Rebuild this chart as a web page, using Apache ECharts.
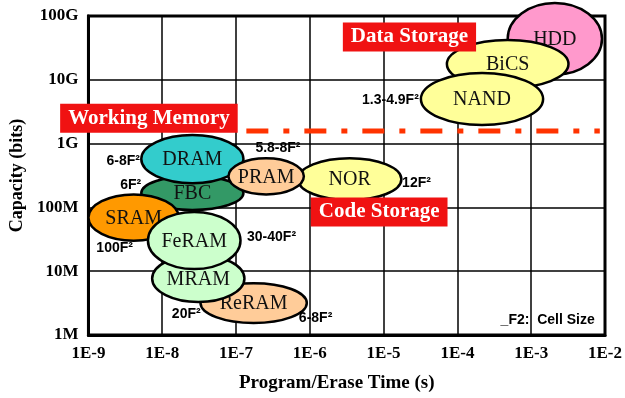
<!DOCTYPE html>
<html>
<head>
<meta charset="utf-8">
<script src="https://cdn.jsdelivr.net/npm/echarts@6/dist/echarts.min.js"></script>
<style>html,body{margin:0;padding:0;background:#fff}#chart{width:625px;height:398px}</style>
</head>
<body>
<div id="chart"></div>
<script>
// 各存储器: 写/擦时间范围 (s), 容量范围 (bits)
var memNames = ['HDD', 'BiCS', 'NAND', 'NOR', 'FBC', 'DRAM', 'PRAM', 'SRAM', 'ReRAM', 'MRAM', 'FeRAM'];
var timeMin = [4.8e-4, 7.2e-5, 3.2e-5, 6.9e-7, 5.2e-9, 5.2e-9, 7.9e-8, 1.0e-9, 3.3e-8, 7.3e-9, 6.4e-9];
var timeMax = [9.1e-3, 3.2e-3, 1.45e-3, 1.74e-5, 1.26e-7, 1.26e-7, 8.3e-7, 1.68e-8, 9.1e-7, 1.3e-7, 1.15e-7];
var capMin = [1.2e10, 7.4e9, 1.95e9, 1.3e8, 9.1e7, 2.4e8, 1.6e8, 3.0e7, 1.54e6, 3.3e6, 1.08e7];
var capMax = [1.6e11, 4.2e10, 1.28e10, 5.9e8, 3.1e8, 1.36e9, 5.9e8, 1.6e8, 6.5e6, 1.8e7, 8.5e7];

// 单元尺寸标注
var cellText = ['6-8F²', '5.8-8F²', '6F²', '1.3-4.9F²', '12F²', '100F²', '30-40F²', '20F²', '6-8F²', '_F2:  Cell Size'];
var cellTime = [5.0e-9, 3.7e-7, 5.2e-9, 3.0e-5, 1.78e-5, 1.28e-9, 1.41e-7, 1.35e-8, 7.1e-7, 3.85e-4];
var cellCap = [5.4e8, 8.5e8, 2.24e8, 4.8e9, 2.4e8, 2.3e7, 3.4e7, 2.1e6, 1.85e6, 1.72e6];
var cellAlign = ['right', 'center', 'right', 'right', 'left', 'left', 'left', 'left', 'left', 'left'];

// 用途区域
var areaText = ['Working Memory', 'Data Storage', 'Code Storage'];
var areaTime = [6.6e-9, 2.24e-5, 8.7e-6];
var areaCap = [2.5e9, 4.7e10, 8.5e7];

// Working Memory 分界线
var wmLineTime = [1.38e-7, 8.5e-3];
var wmLineCap = [1.58e9, 1.58e9];

// 刻度标签
var yTickLabels = {6: '1M', 7: '10M', 8: '100M', 9: '1G', 10: '10G', 11: '100G'};

var memColors = ['#ff99cc', '#ffff99', '#ffff99', '#ffff99', '#339966', '#33cccc', '#ffcc99', '#ff9900', '#ffcc99', '#ccffcc', '#ccffcc'];
var serif = '"Liberation Serif", "Times New Roman", serif';
var sans = '"Liberation Sans", Arial, sans-serif';

var memData = [];
for (var i = 0; i < memNames.length; i++) {
    memData.push([timeMin[i], capMin[i], timeMax[i], capMax[i]]);
}
var cellData = [];
for (var i = 0; i < cellText.length; i++) {
    cellData.push([cellTime[i], cellCap[i]]);
}
var areaData = [];
for (var i = 0; i < areaText.length; i++) {
    areaData.push([areaTime[i], areaCap[i]]);
}
var lineData = [];
for (var i = 0; i < wmLineTime.length; i++) {
    lineData.push([wmLineTime[i], wmLineCap[i]]);
}

function exp10(v) {
    return Math.round(Math.log(v) / Math.LN10);
}

var option = {
    backgroundColor: '#fff',
    animation: false,
    grid: {
        left: 87, right: 18, top: 16, bottom: 63,
        show: true, borderColor: '#000', borderWidth: 3
    },
    xAxis: {
        type: 'log', logBase: 10, min: 1e-9, max: 1e-2,
        axisLine: {lineStyle: {color: '#000', width: 3}},
        axisTick: {show: false},
        splitLine: {show: true, lineStyle: {color: '#000', width: 1.5}},
        axisLabel: {
            color: '#000', fontFamily: serif, fontWeight: 'bold', fontSize: 17, margin: 10,
            formatter: function (v) { return '1E' + exp10(v); }
        },
        name: 'Program/Erase Time (s)', nameLocation: 'middle', nameGap: 39,
        nameTextStyle: {color: '#000', fontFamily: serif, fontWeight: 'bold', fontSize: 19, padding: [0, 20, 0, 0]}
    },
    yAxis: {
        type: 'log', logBase: 10, min: 1e6, max: 1e11,
        axisLine: {lineStyle: {color: '#000', width: 3}},
        axisTick: {show: false},
        splitLine: {show: true, lineStyle: {color: '#000', width: 1.5}},
        axisLabel: {
            color: '#000', fontFamily: serif, fontWeight: 'bold', fontSize: 17, margin: 10,
            formatter: function (v) { return yTickLabels[exp10(v)]; }
        },
        name: 'Capacity (bits)', nameLocation: 'middle', nameGap: 62,
        nameTextStyle: {color: '#000', fontFamily: serif, fontWeight: 'bold', fontSize: 18}
    },
    series: [{
        type: 'line',
        data: lineData,
        symbol: 'none',
        silent: true,
        z: 3,
        lineStyle: {color: '#ff3300', width: 5, type: [22, 15, 6, 15]}
    }, {
        type: 'custom',
        data: memData,
        clip: false,
        z: 4,
        encode: {x: [0, 2], y: [1, 3]},
        renderItem: function (params, api) {
            var i = params.dataIndex;
            var p1 = api.coord([api.value(0), api.value(1)]);
            var p2 = api.coord([api.value(2), api.value(3)]);
            var cx = (p1[0] + p2[0]) / 2, cy = (p1[1] + p2[1]) / 2;
            return {
                type: 'group',
                children: [{
                    type: 'ellipse',
                    z2: i * 2,
                    shape: {cx: cx, cy: cy, rx: Math.abs(p2[0] - p1[0]) / 2, ry: Math.abs(p2[1] - p1[1]) / 2},
                    style: {fill: memColors[i], stroke: '#000', lineWidth: 2.5}
                }, {
                    type: 'text',
                    z2: i * 2 + 1,
                    x: cx, y: cy + 1,
                    style: {
                        text: memNames[i], fill: '#111', align: 'center', verticalAlign: 'middle',
                        fontFamily: serif, fontSize: 20
                    }
                }]
            };
        }
    }, {
        type: 'custom',
        data: cellData,
        clip: false,
        z: 5,
        renderItem: function (params, api) {
            var i = params.dataIndex;
            var p = api.coord([api.value(0), api.value(1)]);
            return {
                type: 'text',
                x: p[0], y: p[1],
                style: {
                    text: cellText[i], fill: '#000', align: cellAlign[i], verticalAlign: 'middle',
                    fontFamily: sans, fontWeight: 'bold', fontSize: 14
                }
            };
        }
    }, {
        type: 'custom',
        data: areaData,
        clip: false,
        z: 6,
        renderItem: function (params, api) {
            var i = params.dataIndex;
            var p = api.coord([api.value(0), api.value(1)]);
            return {
                type: 'text',
                x: p[0], y: p[1],
                style: {
                    text: areaText[i], fill: '#fff', align: 'center', verticalAlign: 'middle',
                    fontFamily: serif, fontWeight: 'bold', fontSize: 21,
                    backgroundColor: '#f01212', padding: [4, 8]
                }
            };
        }
    }]
};

var chart = echarts.init(document.getElementById('chart'));
chart.setOption(option);
</script>
</body>
</html>
